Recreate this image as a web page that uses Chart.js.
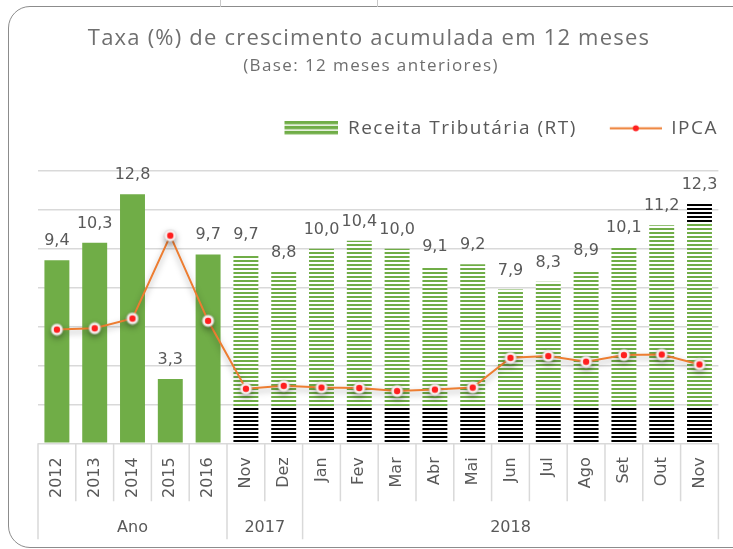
<!DOCTYPE html>
<html>
<head>
<meta charset="utf-8">
<script src="https://cdn.jsdelivr.net/npm/chart.js@4.4.0/dist/chart.umd.min.js"></script>
<style>
  html, body { margin: 0; padding: 0; background: #fff; }
  #wrap { position: relative; width: 733px; height: 549px; overflow: hidden; }
  #frame { position: absolute; left: 8px; top: 6px; width: 780px; height: 540px;
           border: 1.5px solid #8c8c8c; border-radius: 22px; pointer-events: none; }
  .cell { position: absolute; top: 0; width: 1px; height: 7px; background: #c8c8c8; }
</style>
</head>
<body>
<div id="wrap">
  <canvas id="chart" width="733" height="549"></canvas>
  <div id="frame"></div>
  <div class="cell" style="left:220px"></div>
  <div class="cell" style="left:377px"></div>
</div>
<script>
const categories = ['2012', '2013', '2014', '2015', '2016', 'Nov', 'Dez', 'Jan', 'Fev', 'Mar',
                    'Abr', 'Mai', 'Jun', 'Jul', 'Ago', 'Set', 'Out', 'Nov'];
const groupLabels = ['Ano', '2017', '2018'];
const groupSizes = [5, 2, 11];

const receita = [9.4, 10.3, 12.8, 3.3, 9.7, 9.7, 8.8, 10.0, 10.4, 10.0, 9.1, 9.2, 7.9, 8.3, 8.9, 10.1, 11.2, 12.3];
const ipca = [5.84, 5.91, 6.41, 10.67, 6.29, 2.80, 2.95, 2.86, 2.84, 2.68, 2.76, 2.86, 4.39, 4.48, 4.19, 4.53, 4.56, 4.05];

const GREEN = '#70AD47';
const ORANGE = '#ED7D31';
const TEXT = '#595959';

// horizontal hatch for the monthly bars (anchored to the canvas, so the band colour depends on height)
function makeHatch(h) {
  const c = document.createElement('canvas');
  c.width = 4; c.height = h;
  const g = c.getContext('2d');
  g.fillStyle = '#fff';
  g.fillRect(0, 0, 4, h);
  for (let y = 0; y < h; y += 4) {
    g.fillStyle = (y > 407 || y < 223) ? '#000' : GREEN;
    g.fillRect(0, y, 4, 2);
  }
  return g.createPattern(c, 'repeat');
}

function makeMarker() {
  const c = document.createElement('canvas');
  c.width = c.height = 14;
  const g = c.getContext('2d');
  const glow = g.createRadialGradient(7, 7, 2, 7, 7, 7);
  glow.addColorStop(0, 'rgba(255,255,255,1)');
  glow.addColorStop(0.6, 'rgba(248,240,240,0.95)');
  glow.addColorStop(1, 'rgba(190,190,190,0)');
  g.fillStyle = glow;
  g.beginPath(); g.arc(7, 7, 7, 0, Math.PI * 2); g.fill();
  g.fillStyle = '#ff1f1f';
  g.beginPath(); g.arc(7, 7, 3.2, 0, Math.PI * 2); g.fill();
  return c;
}

function makeBarSwatch() {
  const c = document.createElement('canvas');
  c.width = 81; c.height = 15;
  const g = c.getContext('2d');
  for (let y = 0; y < 15; y += 5) {
    g.fillStyle = GREEN; g.fillRect(27, y, 54, 3);
    g.fillStyle = '#b5d69f'; g.fillRect(27, y + 3, 54, 1);
  }
  return c;
}

function makeLineSwatch() {
  const c = document.createElement('canvas');
  c.width = 81; c.height = 15;
  const g = c.getContext('2d');
  g.strokeStyle = ORANGE; g.lineWidth = 2;
  g.beginPath(); g.moveTo(29, 7.5); g.lineTo(81, 7.5); g.stroke();
  g.fillStyle = '#ff1f1f';
  g.beginPath(); g.arc(55, 7.5, 3, 0, Math.PI * 2); g.fill();
  return c;
}

const hatch = makeHatch(549);
const barColors = categories.map((c, i) => i < 5 ? GREEN : hatch);

// values above the bars, decimal comma
const barLabels = {
  id: 'barLabels',
  afterDatasetsDraw(chart) {
    const meta = chart.getDatasetMeta(0);
    const ctx = chart.ctx;
    ctx.save();
    ctx.fillStyle = TEXT;
    ctx.font = '16px "DejaVu Sans"';
    ctx.textAlign = 'center';
    ctx.textBaseline = 'alphabetic';
    meta.data.forEach((bar, i) => {
      ctx.fillText(receita[i].toFixed(1).replace('.', ','), bar.x, bar.y - 15);
    });
    ctx.restore();
  }
};

// soft shadow under the IPCA line
const lineShadow = {
  id: 'lineShadow',
  beforeDatasetDraw(chart, args) {
    if (args.meta.type !== 'line') return;
    const ctx = chart.ctx;
    ctx.save();
    ctx.shadowColor = 'rgba(0,0,0,0.35)';
    ctx.shadowBlur = 6;
    ctx.shadowOffsetY = 3;
  },
  afterDatasetDraw(chart, args) {
    if (args.meta.type !== 'line') return;
    chart.ctx.restore();
  }
};

// second level of the category axis: separators and group names
const axisGroups = {
  id: 'axisGroups',
  afterDraw(chart) {
    const {ctx, chartArea, scales: {x}} = chart;
    const step = (x.right - x.left) / categories.length;
    const top = chartArea.bottom;
    const bounds = [0];
    groupSizes.forEach(n => bounds.push(bounds[bounds.length - 1] + n));
    ctx.save();
    ctx.strokeStyle = '#d9d9d9';
    ctx.lineWidth = 1.5;
    for (let i = 0; i <= categories.length; i++) {
      const px = x.left + i * step;
      ctx.beginPath();
      ctx.moveTo(px, top);
      ctx.lineTo(px, top + (bounds.includes(i) ? 96 : 58));
      ctx.stroke();
    }
    ctx.fillStyle = TEXT;
    ctx.font = '16px "DejaVu Sans"';
    ctx.textAlign = 'center';
    ctx.textBaseline = 'middle';
    groupLabels.forEach((g, k) => {
      ctx.fillText(g, x.left + (bounds[k] + bounds[k + 1]) / 2 * step, top + 85);
    });
    ctx.restore();
  }
};

// wider letter spacing for title, subtitle and legend; extra room under the legend
function withSpacing(box, method, spacing, opts = {}) {
  const orig = box[method];
  box[method] = function (...args) {
    const ctx = this.ctx;
    const prev = ctx.letterSpacing;
    ctx.save();
    if (opts.shiftX) ctx.translate(opts.shiftX, 0);
    ctx.letterSpacing = spacing;
    const res = orig.apply(this, args);
    ctx.restore();
    ctx.letterSpacing = prev;
    if (opts.after) opts.after.call(this);
    return res;
  };
}

const headerText = {
  id: 'headerText',
  afterInit(chart) {
    const title = chart.titleBlock;
    const legend = chart.legend;
    const subtitle = chart.boxes.find(b => b !== title && b !== legend);
    withSpacing(title, 'draw', '1.2px', { shiftX: -11 });
    if (subtitle) withSpacing(subtitle, 'draw', '1.4px', { shiftX: -9 });
    withSpacing(legend, 'fit', '1.5px', { after() { this.height += 23; } });
    withSpacing(legend, 'draw', '1.5px');
  }
};

const barSwatch = makeBarSwatch();
const lineSwatch = makeLineSwatch();

new Chart(document.getElementById('chart'), {
  data: {
    labels: categories,
    datasets: [
      {
        type: 'bar',
        label: 'Receita Tributária (RT)',
        data: receita,
        backgroundColor: barColors,
        categoryPercentage: 1,
        barPercentage: 0.66,
        order: 1
      },
      {
        type: 'line',
        label: 'IPCA',
        data: ipca,
        borderColor: ORANGE,
        borderWidth: 2,
        tension: 0,
        pointStyle: makeMarker(),
        pointRadius: 6,
        order: 0
      }
    ]
  },
  options: {
    responsive: false,
    animation: false,
    layout: { padding: { left: 38, right: 11, top: 0, bottom: 37 } },
    scales: {
      x: {
        grid: { display: false, drawTicks: false },
        border: { display: false },
        ticks: {
          maxRotation: 90, minRotation: 90, padding: 14, autoSkip: false,
          color: TEXT, font: { family: 'DejaVu Sans', size: 16 }
        }
      },
      y: {
        min: 0, max: 14,
        ticks: { display: false, stepSize: 2 },
        grid: { color: '#d9d9d9', lineWidth: 1.5, drawTicks: false },
        border: { display: false }
      }
    },
    plugins: {
      tooltip: { enabled: false },
      title: {
        display: true,
        text: 'Taxa (%) de crescimento acumulada em 12 meses',
        color: '#6f6f6f',
        font: { family: 'Open Sans', size: 22, weight: 'normal' },
        padding: { top: 26, bottom: 0 }
      },
      subtitle: {
        display: true,
        text: '(Base: 12 meses anteriores)',
        color: '#6f6f6f',
        font: { family: 'Open Sans', size: 17 },
        padding: { top: 4, bottom: 38 }
      },
      legend: {
        position: 'top',
        align: 'end',
        labels: {
          usePointStyle: true,
          pointStyleWidth: 81,
          padding: 4,
          color: TEXT,
          font: { family: 'Open Sans', size: 19 },
          generateLabels: chart => chart.data.datasets.map((ds, i) => ({
            text: ds.label,
            pointStyle: i === 0 ? barSwatch : lineSwatch,
            fillStyle: 'transparent',
            strokeStyle: 'transparent',
            lineWidth: 0,
            fontColor: TEXT,
            hidden: false,
            datasetIndex: i
          }))
        }
      }
    }
  },
  plugins: [barLabels, lineShadow, axisGroups, headerText]
});
</script>
</body>
</html>
